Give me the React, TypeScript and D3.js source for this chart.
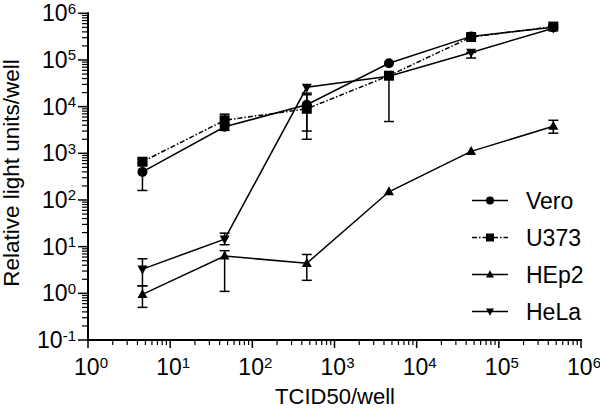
import React from "react";
import * as d3 from "d3";

const doses = [4.6, 46, 460, 4600, 46000, 460000];
const xTickExps = [0, 1, 2, 3, 4, 5, 6];
const yTickExps = [-1, 0, 1, 2, 3, 4, 5, 6];

const veroValues = [400, 3700, 11000, 85000, 320000, 500000];
const veroLow = [160, 3150, 3000, 85000, 290000, 500000];
const veroHigh = [650, 4300, 18000, 85000, 350000, 500000];

const u373Values = [660, 5100, 9000, 46000, 310000, 520000];
const u373Low = [580, 3100, 2000, 4800, 300000, 480000];
const u373High = [760, 6900, 19500, 46000, 320000, 560000];

const hep2Values = [0.95, 6.3, 4.4, 150, 1100, 3800];
const hep2Low = [0.5, 1.1, 1.9, 150, 1100, 2700];
const hep2High = [1.45, 8.2, 6.8, 150, 1100, 5100];

const helaValues = [3.3, 14.5, 26000, 45000, 145000, 480000];
const helaLow = [1.45, 11, 26000, 45000, 110000, 480000];
const helaHigh = [5.5, 19.5, 26000, 45000, 145000, 480000];

const seriesNames = ["Vero", "U373", "HEp2", "HeLa"];

type S = { name: string; values: number[]; low: number[]; high: number[]; marker: string; dash?: string };
const series: S[] = [
  { name: seriesNames[0], values: veroValues, low: veroLow, high: veroHigh, marker: "circle" },
  { name: seriesNames[1], values: u373Values, low: u373Low, high: u373High, marker: "square", dash: "5,2,1.5,2" },
  { name: seriesNames[2], values: hep2Values, low: hep2Low, high: hep2High, marker: "up" },
  { name: seriesNames[3], values: helaValues, low: helaLow, high: helaHigh, marker: "down" },
];

const FONT = "'Liberation Sans', Arial, sans-serif";

function Marker({ kind, x, y, s }: { kind: string; x: number; y: number; s: number }) {
  if (kind === "circle") return <circle cx={x} cy={y} r={s / 2} fill="#000" />;
  if (kind === "square") return <rect x={x - s / 2} y={y - s / 2} width={s} height={s} fill="#000" />;
  const h = s * 0.9;
  if (kind === "up")
    return <path d={`M${x},${y - h * 0.6}L${x + s / 2},${y + h * 0.4}L${x - s / 2},${y + h * 0.4}Z`} fill="#000" />;
  return <path d={`M${x},${y + h * 0.6}L${x + s / 2},${y - h * 0.4}L${x - s / 2},${y - h * 0.4}Z`} fill="#000" />;
}

export default function App() {
  const x = d3.scaleLog().domain([1, 1e6]).range([88, 581]);
  const y = d3.scaleLog().domain([0.1, 1e6]).range([340, 13.3]);

  const line = d3
    .line<number>()
    .x((_, i) => x(doses[i]))
    .y((d) => y(d));

  const minorX: number[] = [];
  for (let e = 0; e < 6; e++) for (let k = 2; k <= 9; k++) minorX.push(k * Math.pow(10, e));
  const minorY: number[] = [];
  for (let e = -1; e < 6; e++) for (let k = 2; k <= 9; k++) minorY.push(k * Math.pow(10, e));

  const legendX1 = 472;
  const legendX2 = 508;
  const legendY0 = 200.5;
  const legendStep = 37;

  return (
    <div style={{ position: "absolute", left: 0, top: 0 }}>
      <svg width={600} height={409} style={{ display: "block", background: "#fff" }} fontFamily={FONT}>
        <rect width={600} height={409} fill="#fff" />
        {/* axes */}
        <line x1={88} x2={88} y1={y(1e6) - 1} y2={341} stroke="#000" strokeWidth={2} />
        <line x1={87} x2={x(1e6) + 1} y1={340} y2={340} stroke="#000" strokeWidth={2} />
        {yTickExps.map((e) => (
          <line key={"ym" + e} x1={78} x2={88} y1={y(Math.pow(10, e))} y2={y(Math.pow(10, e))} stroke="#000" strokeWidth={1.5} />
        ))}
        {minorY.map((v, i) => (
          <line key={"yn" + i} x1={82} x2={88} y1={y(v)} y2={y(v)} stroke="#000" strokeWidth={1.2} />
        ))}
        {xTickExps.map((e) => (
          <line key={"xm" + e} x1={x(Math.pow(10, e))} x2={x(Math.pow(10, e))} y1={340} y2={348} stroke="#000" strokeWidth={1.5} />
        ))}
        {minorX.map((v, i) => (
          <line key={"xn" + i} x1={x(v)} x2={x(v)} y1={340} y2={345} stroke="#000" strokeWidth={1.2} />
        ))}
        {yTickExps.map((e) => (
          <text key={"yl" + e} x={76} y={y(Math.pow(10, e)) + 8} textAnchor="end" fontSize={23} fill="#000">
            <tspan>10</tspan>
            <tspan dy={-7.5} fontSize={15}>{String(e)}</tspan>
          </text>
        ))}
        {xTickExps.map((e) => (
          <text key={"xl" + e} x={x(Math.pow(10, e)) + 3} y={375} textAnchor="middle" fontSize={23} fill="#000">
            <tspan>10</tspan>
            <tspan dy={-7.5} fontSize={15}>{e}</tspan>
          </text>
        ))}
        <text x={335} y={404} textAnchor="middle" fontSize={22} fill="#000">TCID50/well</text>
        <text transform="translate(19,173) rotate(-90)" textAnchor="middle" fontSize={22.5} fill="#000">
          Relative light units/well
        </text>

        {/* error bars */}
        {series.map((s) =>
          doses.map((d, i) => {
            const cx = x(d);
            const yl = y(s.low[i]);
            const yh = y(s.high[i]);
            if (Math.abs(yl - yh) < 1) return null;
            return (
              <g key={s.name + "e" + i} stroke="#000" strokeWidth={1.5}>
                <line x1={cx} x2={cx} y1={yl} y2={yh} />
                <line x1={cx - 5} x2={cx + 5} y1={yl} y2={yl} />
                <line x1={cx - 5} x2={cx + 5} y1={yh} y2={yh} />
              </g>
            );
          })
        )}
        {/* lines */}
        {series.map((s) => (
          <path key={s.name + "l"} d={line(s.values) || ""} fill="none" stroke="#000" strokeWidth={1.5} strokeDasharray={s.dash} />
        ))}
        {/* markers */}
        {series.map((s) =>
          s.values.map((v, i) => <Marker key={s.name + "m" + i} kind={s.marker} x={x(doses[i])} y={y(v)} s={10} />)
        )}

        {/* legend */}
        {series.map((s, i) => {
          const ly = legendY0 + i * legendStep;
          return (
            <g key={s.name + "leg"}>
              <line x1={legendX1} x2={legendX2} y1={ly} y2={ly} stroke="#000" strokeWidth={1.5} strokeDasharray={s.dash} />
              <Marker kind={s.marker} x={(legendX1 + legendX2) / 2} y={ly} s={8} />
              <text x={526} y={ly + 8} fontSize={23} fill="#000">{s.name}</text>
            </g>
          );
        })}
      </svg>
    </div>
  );
}
